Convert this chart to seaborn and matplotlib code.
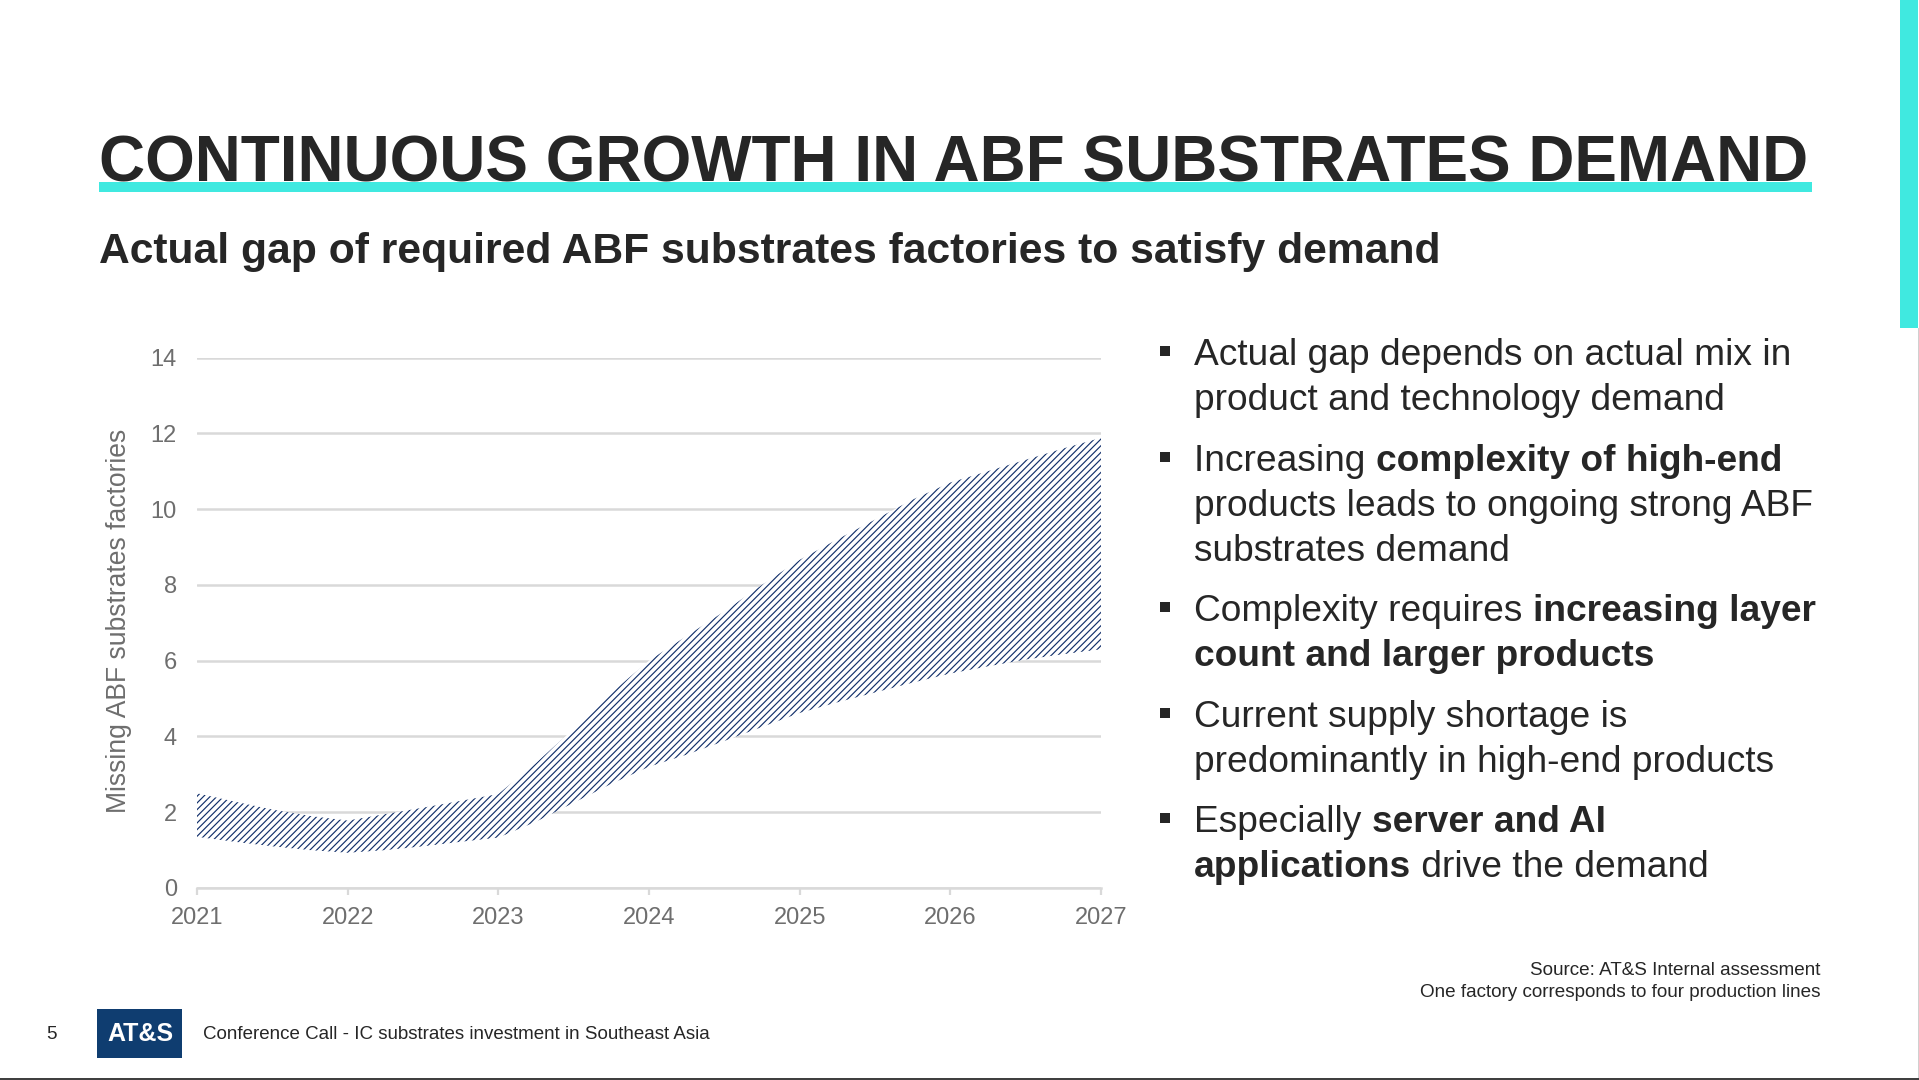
import pandas as pd
import seaborn as sns
import matplotlib.pyplot as plt
from matplotlib.patches import Rectangle

# Данные (шаг - квартал)
years = [2021, 2021.25, 2021.5, 2021.75, 2022, 2022.25, 2022.5, 2022.75, 2023,
         2023.25, 2023.5, 2023.75, 2024, 2024.25, 2024.5, 2024.75, 2025,
         2025.25, 2025.5, 2025.75, 2026, 2026.25, 2026.5, 2026.75, 2027]
gap_high = [2.5, 2.28, 2.07, 1.9, 1.78, 1.95, 2.12, 2.3, 2.48,
            3.3, 4.2, 5.15, 6.0, 6.65, 7.3, 8.0, 8.66,
            9.2, 9.72, 10.25, 10.7, 11.0, 11.3, 11.6, 11.88]
gap_low = [1.35, 1.22, 1.1, 1.0, 0.93, 1.0, 1.1, 1.22, 1.33,
           1.75, 2.25, 2.75, 3.2, 3.52, 3.88, 4.25, 4.62,
           4.9, 5.16, 5.42, 5.66, 5.85, 6.03, 6.17, 6.3]
x_ticks = [2021, 2022, 2023, 2024, 2025, 2026, 2027]
y_ticks = [0, 2, 4, 6, 8, 10, 12, 14]

title = 'CONTINUOUS GROWTH IN ABF SUBSTRATES DEMAND'
subtitle = 'Actual gap of required ABF substrates factories to satisfy demand'
y_label = 'Missing ABF substrates factories'
source_lines = ['Source: AT&S Internal assessment',
                'One factory corresponds to four production lines']
footer = 'Conference Call - IC substrates investment in Southeast Asia'

# Каждая строка - список кусков (текст, жирный)
bullets = [
    [[('Actual gap depends on actual mix in', False)],
     [('product and technology demand', False)]],
    [[('Increasing ', False), ('complexity of high-end', True)],
     [('products leads to ongoing strong ABF', False)],
     [('substrates demand', False)]],
    [[('Complexity requires ', False), ('increasing layer', True)],
     [('count and larger products', True)]],
    [[('Current supply shortage is', False)],
     [('predominantly in high-end products', False)]],
    [[('Especially ', False), ('server and AI', True)],
     [('applications', True), (' drive the demand', False)]],
]
bullet_baselines = [[365, 410], [471, 516, 561], [621, 666], [727, 772], [832, 877]]

W, H = 1919, 1080
DARK = '#262626'
GREY = '#6e6e6e'
TEAL = '#40E9E0'
NAVY = '#12306B'
BULLET_SIZE = 26.75

sns.set_theme(style='white')
plt.rcParams['font.family'] = ['Liberation Sans', 'DejaVu Sans']
plt.rcParams['hatch.linewidth'] = 0.85
plt.rcParams['hatch.color'] = NAVY

fig = plt.figure(figsize=(W / 100, H / 100), dpi=100, facecolor='white')


def px_text(x, y, s, **kw):
    return fig.text(x / W, 1 - y / H, s, **kw)


def px_rect(x0, y0, x1, y1, color):
    fig.add_artist(Rectangle((x0 / W, 1 - y1 / H), (x1 - x0) / W, (y1 - y0) / H,
                             transform=fig.transFigure, facecolor=color,
                             edgecolor='none'))


# График
left, right, top, bottom = 197, 1101, 357.5, 888
ax = fig.add_axes([left / W, 1 - bottom / H, (right - left) / W, (bottom - top) / H])
df = pd.DataFrame({'year': years * 2, 'gap': gap_high + gap_low})
sns.lineplot(data=df, x='year', y='gap', errorbar=('pi', 100), linewidth=0, ax=ax,
             color=NAVY,
             err_kws=dict(alpha=1, facecolor='white', edgecolor=NAVY, hatch='/////',
                          linewidth=0, zorder=3))
ax.set_xlim(2021, 2027)
ax.set_ylim(0, 14)
ax.set_xticks(x_ticks)
ax.set_yticks(y_ticks)
ax.grid(axis='y', color='#D9D9D9', linewidth=1.8)
ax.set_axisbelow(True)
sns.despine(ax=ax, left=True)
ax.spines['bottom'].set_color('#D9D9D9')
ax.spines['bottom'].set_linewidth(1.8)
ax.spines['bottom'].set_zorder(1)
ax.tick_params(axis='x', length=5, width=1.6, color='#D9D9D9', labelsize=17,
               labelcolor=GREY, pad=8.5, bottom=True)
ax.tick_params(axis='y', length=0, labelsize=17, labelcolor=GREY, pad=14.5)
ax.set_xlabel('')
ax.set_ylabel('')
px_text(119.5, 621, y_label, rotation=90, ha='center', va='center',
        fontsize=19.1, color=GREY)

# Заголовки и оформление слайда
px_text(99, 181, title, fontsize=46.0, fontweight='bold', color=DARK, va='baseline')
px_rect(99, 182, 1812, 192, TEAL)
px_text(99, 263.5, subtitle, fontsize=30.72, fontweight='bold', color=DARK, va='baseline')
px_rect(1900, 0, 1918, 328, TEAL)
px_rect(1917.5, 328, 1919, 1078, '#D0D0D0')
px_rect(0, 1078, W, H, '#404040')

# Маркированный список
fig.canvas.draw()
renderer = fig.canvas.get_renderer()
for item, baselines in zip(bullets, bullet_baselines):
    px_rect(1160, baselines[0] - 19, 1170, baselines[0] - 9, DARK)
    for runs, base in zip(item, baselines):
        cur_x = 1194
        for chunk, is_bold in runs:
            t = px_text(cur_x, base, chunk, fontsize=BULLET_SIZE, color=DARK, va='baseline',
                        fontweight='bold' if is_bold else 'normal')
            # ширина с учётом хвостовых пробелов
            probe = px_text(0, 0, chunk.replace(' ', '\u00a0'), fontsize=BULLET_SIZE,
                            fontweight='bold' if is_bold else 'normal')
            cur_x += probe.get_window_extent(renderer).width
            probe.remove()

# Источник и нижний колонтитул
px_text(1820, 975, source_lines[0], fontsize=13.6, color=DARK, ha='right', va='baseline')
px_text(1820, 997, source_lines[1], fontsize=13.6, color=DARK, ha='right', va='baseline')
px_text(46, 1039, '5', fontsize=13.6, color=DARK, va='baseline')
px_rect(97, 1009, 182, 1058, '#0F3D70')
px_text(140, 1034, 'AT&S', fontsize=18, fontweight='bold', color='white',
        ha='center', va='center')
px_text(203, 1039, footer, fontsize=13.5, color=DARK, va='baseline')

fig.savefig('out.png', dpi=100, facecolor='white')
